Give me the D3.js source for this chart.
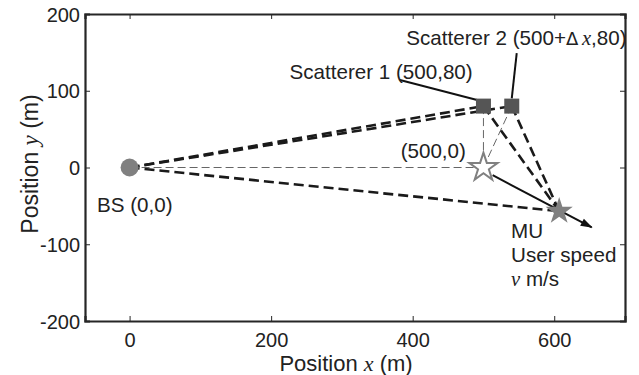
<!DOCTYPE html>
<html>
<head>
<meta charset="utf-8">
<script src="https://cdn.jsdelivr.net/npm/d3@7"></script>
<style>
  html, body { margin: 0; padding: 0; background: #fff; }
  svg { display: block; }
  text { font-family: "Liberation Sans", Arial, sans-serif; fill: #222; }
  .math { font-family: "Liberation Serif", "DejaVu Serif", serif; font-style: italic; }
</style>
</head>
<body>
<svg id="chart" width="639" height="375"></svg>
<script>
// ---- data ----
const xTicks = [0, 200, 400, 600];
const yTicks = [-200, -100, 0, 100, 200];
const xDomain = [-63, 700];
const yDomain = [-200, 200];

const bsPos = [0, 0];
const scattererX = [500, 540];
const scattererY = [80, 80];
const refPos = [500, 0];
const muPos = [607, -57];
const arrowStart = [513, -10];
const arrowEnd = [653, -78];

// ---- setup ----
const W = 639, H = 375;
const margin = { left: 85, right: 14, top: 14, bottom: 54 };
const svg = d3.select("#chart");
const x = d3.scaleLinear().domain(xDomain).range([margin.left, W - margin.right]);
const y = d3.scaleLinear().domain(yDomain).range([H - margin.bottom, margin.top]);

const s1 = [scattererX[0], scattererY[0]];
const s2 = [scattererX[1], scattererY[1]];

const line = d3.line().x(d => x(d[0])).y(d => y(d[1]));

// marker for arrow
svg.append("defs").append("marker")
  .attr("id", "arrowHead")
  .attr("viewBox", "0 0 12 10")
  .attr("refX", 11).attr("refY", 5)
  .attr("markerWidth", 13).attr("markerHeight", 10)
  .attr("markerUnits", "userSpaceOnUse")
  .attr("orient", "auto")
  .append("path").attr("d", "M0,1 L12,5 L0,9 Z").attr("fill", "#111");

// thin gray dashed lines
const thinPairs = [[bsPos, refPos], [s1, refPos], [s2, refPos]];
svg.append("g").selectAll("path").data(thinPairs).join("path")
  .attr("d", d => line(d))
  .attr("fill", "none").attr("stroke", "#666").attr("stroke-width", 1)
  .attr("stroke-dasharray", "8,4");

// thick dashed propagation paths
const thickPairs = [[bsPos, s1], [bsPos, s2], [s1, muPos], [s2, muPos], [bsPos, muPos]];
svg.append("g").selectAll("path").data(thickPairs).join("path")
  .attr("d", d => line(d))
  .attr("fill", "none").attr("stroke", "#1a1a1a").attr("stroke-width", 2.6)
  .attr("stroke-dasharray", "10,5");

// movement arrow
svg.append("path")
  .attr("d", line([arrowStart, arrowEnd]))
  .attr("fill", "none").attr("stroke", "#111").attr("stroke-width", 2)
  .attr("marker-end", "url(#arrowHead)");

// leader lines for labels
const leaders = [[[382, 114], [491, 88]], [[547, 149], [540, 90]]];
svg.append("g").selectAll("path").data(leaders).join("path")
  .attr("d", d => line(d))
  .attr("fill", "none").attr("stroke", "#111").attr("stroke-width", 2);

// markers
svg.append("circle")
  .attr("cx", x(bsPos[0])).attr("cy", y(bsPos[1])).attr("r", 9)
  .attr("fill", "#808080");

svg.append("g").selectAll("rect").data(scattererX).join("rect")
  .attr("x", (d, i) => x(d) - 7.5).attr("y", (d, i) => y(scattererY[i]) - 7.5)
  .attr("width", 15).attr("height", 15)
  .attr("fill", "#555");

const star = d3.symbol().type(d3.symbolStar);
svg.append("path")
  .attr("d", star.size(250)())
  .attr("transform", `translate(${x(refPos[0])},${y(refPos[1])})`)
  .attr("fill", "#fff").attr("stroke", "#808080").attr("stroke-width", 2);

svg.append("path")
  .attr("d", star.size(230)())
  .attr("transform", `translate(${x(muPos[0])},${y(muPos[1])})`)
  .attr("fill", "#808080");

// axes box with inward ticks
const axisColor = "#262626";
const fmt = d => String(d);
const gB = svg.append("g").attr("transform", `translate(0,${y(yDomain[0])})`)
  .call(d3.axisBottom(x).tickValues(xTicks).tickSize(-5).tickPadding(11.5).tickFormat(fmt));
const gT = svg.append("g").attr("transform", `translate(0,${y(yDomain[1])})`)
  .call(d3.axisTop(x).tickValues(xTicks).tickSize(-5).tickFormat(""));
const gL = svg.append("g").attr("transform", `translate(${x(xDomain[0])},0)`)
  .call(d3.axisLeft(y).tickValues(yTicks).tickSize(-5).tickPadding(5).tickFormat(fmt));
const gR = svg.append("g").attr("transform", `translate(${x(xDomain[1])},0)`)
  .call(d3.axisRight(y).tickValues(yTicks).tickSize(-5).tickFormat(""));
[gB, gT, gL, gR].forEach(g => {
  g.select(".domain").attr("stroke", axisColor).attr("stroke-width", 2.2);
  g.selectAll(".tick line").attr("stroke", axisColor).attr("stroke-width", 1);
  g.selectAll(".tick text").attr("fill", "#222").style("font-size", "20px")
    .style("font-family", '"Liberation Sans", Arial, sans-serif');
});
gL.selectAll(".tick text").attr("dy", "0.36em");

// axis titles
const xt = svg.append("text")
  .attr("x", 346).attr("y", 371).attr("text-anchor", "middle").style("font-size", "22px");
xt.append("tspan").text("Position ");
xt.append("tspan").attr("class", "math").text("x");
xt.append("tspan").text(" (m)");

const yt = svg.append("text")
  .attr("transform", "translate(38,164) rotate(-90)")
  .attr("text-anchor", "middle").style("font-size", "23px");
yt.append("tspan").text("Position ");
yt.append("tspan").attr("class", "math").text("y");
yt.append("tspan").text(" (m)");

// annotations (anchored in data coordinates)
function label(pos, parts) {
  const t = svg.append("text").attr("x", x(pos[0])).attr("y", y(pos[1])).style("font-size", "20.6px");
  parts.forEach(p => {
    const s = t.append("tspan").text(p[0]);
    if (p[1] === "math") s.attr("class", "math");
    if (p[1] === "sym") s.style("font-family", '"DejaVu Sans", sans-serif').style("font-size", "18px");
  });
}
label([226, 115], [["Scatterer 1 (500,80)"]]);
label([391, 160], [["Scatterer 2 (500+"], ["Δ\u2009", "sym"], ["x", "math"], [",80)"]]);
label([383, 12.4], [["(500,0)"]]);
label([-46, -57.6], [["BS (0,0)"]]);
label([539, -92], [["MU"]]);
label([539, -123], [["User speed"]]);
label([539, -154], [["v", "math"], [" m/s"]]);
</script>
</body>
</html>
